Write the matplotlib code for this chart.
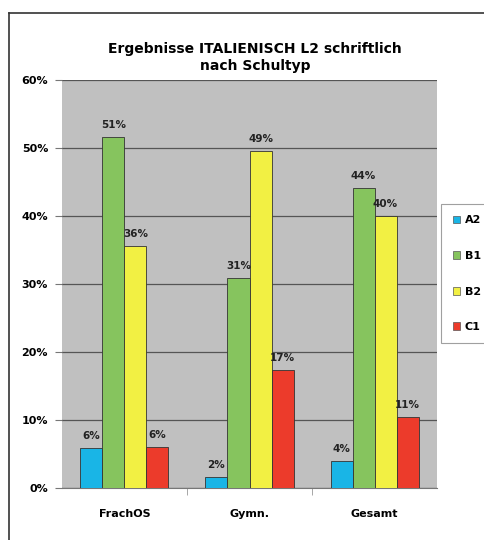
import matplotlib.pyplot as plt
import numpy as np
from matplotlib.lines import Line2D

# Data
categories = ['FrachOS', 'Gymn.', 'Gesamt']
series = ['A2', 'B1', 'B2', 'C1']
a2 = [5.9, 1.6, 4.0]
b1 = [51.6, 30.9, 44.1]
b2 = [35.6, 49.6, 40.0]
c1 = [6.0, 17.4, 10.4]
labels_a2 = ['6%', '2%', '4%']
labels_b1 = ['51%', '31%', '44%']
labels_b2 = ['36%', '49%', '40%']
labels_c1 = ['6%', '17%', '11%']

colors = ['#19b5e6', '#86c45e', '#f2f043', '#ec3b2b']

fig = plt.figure(figsize=(4.84, 5.40), dpi=100)
ax = fig.add_axes([0.128, 0.0963, 0.775, 0.756])
ax.set_facecolor('#c0c0c0')

x = np.arange(len(categories))
w = 0.176
values = [a2, b1, b2, c1]
labels = [labels_a2, labels_b1, labels_b2, labels_c1]
for i, (vals, labs) in enumerate(zip(values, labels)):
    pos = x + (i - 1.5) * w
    bars = ax.bar(pos, vals, w, color=colors[i], edgecolor='#333333',
                  linewidth=0.6, label=series[i], zorder=3)
    for b, lab in zip(bars, labs):
        ax.text(b.get_x() + b.get_width() / 2, b.get_height() + 1.0, lab,
                ha='center', va='bottom', fontsize=7.5, fontweight='bold',
                color='#222222', zorder=4)

ax.set_xlim(-0.5, 2.5)
ax.set_ylim(0, 60)
ax.set_yticks(range(0, 61, 10))
ax.set_yticklabels([f'{v}%' for v in range(0, 61, 10)], fontsize=8,
                   fontweight='bold')
ax.yaxis.grid(True, color='#555555', linewidth=0.9, zorder=0)
ax.set_axisbelow(True)
ax.set_xticks(x)
ax.set_xticklabels(categories, fontsize=8, fontweight='bold')
ax.tick_params(axis='x', length=0, pad=15)
ax.tick_params(axis='y', length=5, color='#777777', pad=5)
for s in ['top', 'right', 'left']:
    ax.spines[s].set_visible(False)
ax.spines['bottom'].set_color('#777777')
# minor category separators
ax.set_xticks([0.5, 1.5], minor=True)
ax.tick_params(axis='x', which='minor', length=5, color='#999999')

fig.text(0.527, 0.894, 'Ergebnisse ITALIENISCH L2 schriftlich\nnach Schultyp',
         ha='center', va='center', fontsize=10, fontweight='bold',
         linespacing=1.25)

handles = [plt.Rectangle((0, 0), 1, 1, facecolor=c, edgecolor='#555555',
                         linewidth=0.5) for c in colors]
leg = fig.legend(handles, series, loc='center left',
                 bbox_to_anchor=(0.912, 0.493), frameon=True,
                 handlelength=0.7, handleheight=0.7, handletextpad=0.4,
                 labelspacing=2.3, borderpad=1.0, fancybox=False,
                 borderaxespad=0.0,
                 prop={'weight': 'bold', 'size': 8})
leg.get_frame().set_edgecolor('#888888')
leg.get_frame().set_linewidth(0.8)

# outer frame (left and top edges)
fig.add_artist(Line2D([9 / 484, 9 / 484], [0, 1 - 13 / 540], color='#333333',
                      linewidth=1.2, transform=fig.transFigure))
fig.add_artist(Line2D([9 / 484, 1], [1 - 13 / 540, 1 - 13 / 540],
                      color='#333333', linewidth=1.2,
                      transform=fig.transFigure))

fig.savefig('out.png', dpi=100)
